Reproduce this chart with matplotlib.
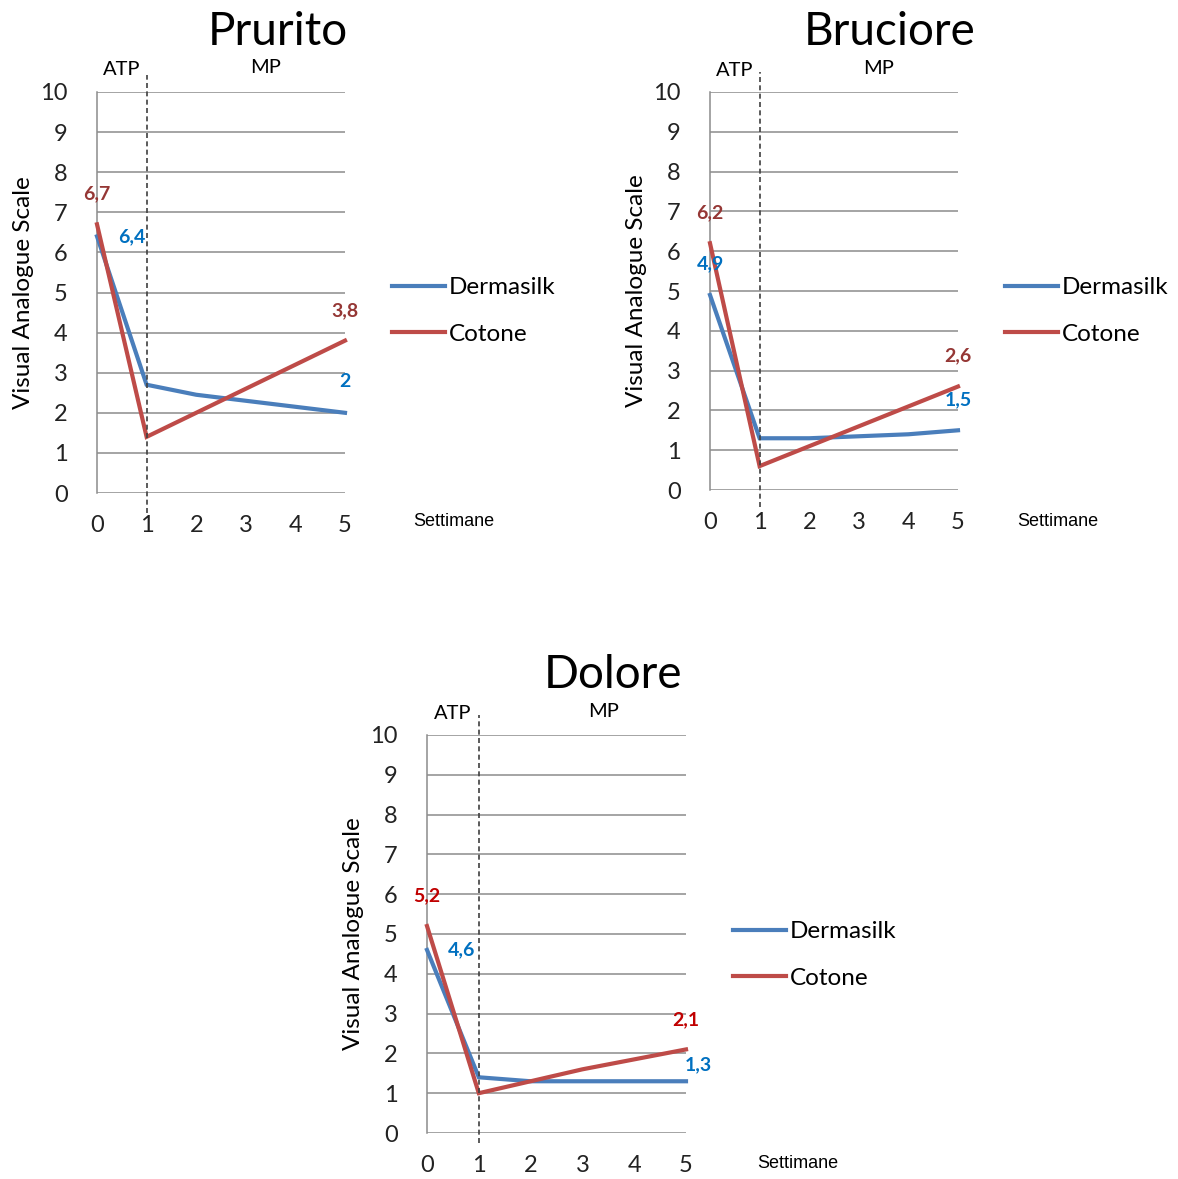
import matplotlib
matplotlib.use('Agg')
import matplotlib.pyplot as plt

weeks = [0, 1, 2, 3, 4, 5]

prurito_dermasilk = [6.4, 2.7, 2.45, 2.3, 2.15, 2.0]
prurito_cotone = [6.7, 1.4, 2.0, 2.6, 3.2, 3.8]
bruciore_dermasilk = [4.9, 1.3, 1.3, 1.35, 1.4, 1.5]
bruciore_cotone = [6.2, 0.6, 1.1, 1.6, 2.1, 2.6]
dolore_dermasilk = [4.6, 1.4, 1.3, 1.3, 1.3, 1.3]
dolore_cotone = [5.2, 1.0, 1.3, 1.6, 1.85, 2.1]

series_names = ['Dermasilk', 'Cotone']
titles = ['Prurito', 'Bruciore', 'Dolore']

# value labels: (text, series index, week)
prurito_labels = [('6,7', 1, 0), ('6,4', 0, 0), ('3,8', 1, 5), ('2', 0, 5)]
bruciore_labels = [('6,2', 1, 0), ('4,9', 0, 0), ('2,6', 1, 5), ('1,5', 0, 5)]
dolore_labels = [('5,2', 1, 0), ('4,6', 0, 0), ('2,1', 1, 5), ('1,3', 0, 5)]

plt.rcParams['font.family'] = ['Lato', 'DejaVu Sans']

blue = '#4A7EBB'
red = '#BE4B48'
grid_col = '#8C8C8C'

W, H = 1178, 1179
fig = plt.figure(figsize=(W / 100, H / 100), dpi=100)


def px(x, y):
    return x / W, 1 - y / H


def panel(rect, derm, cot, labels, label_cols, offsets, title, title_xy,
          leg_xy, sett_xy, dash_ext):
    ax = fig.add_axes(rect)
    ax.set_xlim(0, 5)
    ax.set_ylim(0, 10)
    ax.set_yticks(range(0, 11))
    ax.set_xticks(weeks)
    ax.grid(axis='y', color=grid_col, lw=1.1)
    ax.set_axisbelow(True)
    for s in ['top', 'right', 'bottom']:
        ax.spines[s].set_visible(False)
    ax.spines['left'].set_color(grid_col)
    ax.spines['left'].set_linewidth(1.1)
    ax.tick_params(length=0, labelsize=17, colors='#222222')
    ax.tick_params(axis='y', pad=21)
    ax.tick_params(axis='x', pad=16)
    ax.set_ylabel('Visual Analogue Scale', fontsize=17.5)
    ax.yaxis.set_label_coords(-63 / (rect[2] * W), 0.5)

    l1, = ax.plot(weeks, derm, color=blue, lw=3, label=series_names[0],
                  solid_joinstyle='miter', clip_on=False, zorder=3)
    l2, = ax.plot(weeks, cot, color=red, lw=3, label=series_names[1],
                  solid_joinstyle='miter', clip_on=False, zorder=4)

    ax.plot([1, 1], dash_ext, color='#404040', lw=1.2, ls=(0, (3, 2)),
            clip_on=False, zorder=5)
    ax.text(0.5, 10.55, 'ATP', ha='center', va='center', fontsize=14.5)
    ax.text(3.4, 10.6, 'MP', ha='center', va='center', fontsize=14.5)

    data = [derm, cot]
    for (txt, si, wk), col, off in zip(labels, label_cols, offsets):
        ax.annotate(txt, (wk, data[si][wk]), xytext=off,
                    textcoords='offset pixels', ha='center', va='center',
                    fontsize=14, fontweight='bold', color=col, zorder=6)

    fig.text(*px(*title_xy), title, fontsize=33, ha='center', va='center')
    fig.text(*px(*sett_xy), 'Settimane', fontsize=13, ha='center',
             va='center', family=['Liberation Sans Narrow', 'Liberation Sans'])
    fig.legend(handles=[l1, l2], loc='center left',
               bbox_to_anchor=px(*leg_xy), frameon=False, fontsize=17.5,
               handlelength=2.2, handletextpad=0.15, labelspacing=1.05,
               borderpad=0, borderaxespad=0)
    return ax


dred = '#953735'
dblue = '#0070C0'
bred = '#C00000'

panel([97 / W, 1 - 493 / H, 248 / W, 401 / H],
      prurito_dermasilk, prurito_cotone, prurito_labels,
      [dred, dblue, dred, dblue],
      [(0, 31), (35, 0), (0, 30), (0, 31)],
      'Prurito', (278, 32), (392, 311), (454, 521), [-0.5, 10.42])

panel([710 / W, 1 - 490 / H, 248 / W, 398 / H],
      bruciore_dermasilk, bruciore_cotone, bruciore_labels,
      [dred, dblue, dred, dblue],
      [(0, 30), (0, 31), (0, 31), (0, 31)],
      'Bruciore', (890, 32), (1005, 311), (1058, 521), [-0.43, 10.5])

panel([427 / W, 1 - 1133 / H, 259 / W, 398 / H],
      dolore_dermasilk, dolore_cotone, dolore_labels,
      [bred, dblue, bred, dblue],
      [(0, 30), (35, 0), (0, 30), (12, 17)],
      'Dolore', (613, 675), (733, 955), (798, 1164), [-0.25, 10.5])

fig.savefig('out.png', dpi=100, facecolor='white')
